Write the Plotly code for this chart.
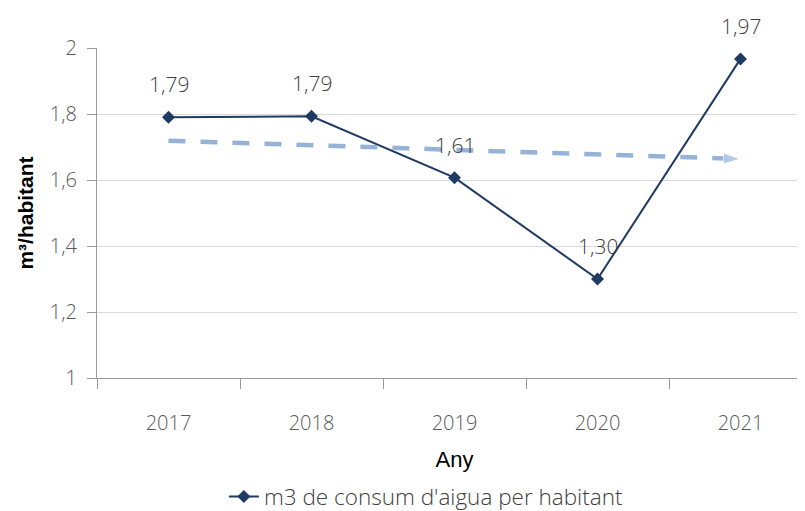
import numpy as np
import plotly.graph_objects as go

years = ["2017", "2018", "2019", "2020", "2021"]
consum = [1.79, 1.793, 1.607, 1.30, 1.967]
series_name = "m3 de consum d'aigua per habitant"

# linear trend of the series (as in the original chart's trendline)
xi = np.arange(len(consum))
slope, intercept = np.polyfit(xi, consum, 1)
trend = [intercept + slope * xi[0], intercept + slope * xi[-1]]
trend_x = [years[0], years[-1]]

lf = "Open Sans"
fig = go.Figure()

fig.add_trace(go.Scatter(
    x=years, y=consum, mode="lines+markers", name=series_name,
    line=dict(color="#1F3B63", width=2),
    marker=dict(symbol="diamond", size=10, color="#1F3B63"),
))

fig.add_trace(go.Scatter(
    x=trend_x, y=trend, mode="lines+markers", showlegend=False,
    line=dict(color="#95B3D7", width=4.5, dash="17px,15px"),
    marker=dict(symbol="arrow", size=[0, 18], angleref="previous", color="#95B3D7"),
    hoverinfo="skip",
))

for i, v in enumerate(consum):
    fig.add_annotation(x=i, y=v, xref="x", yref="y", text=f"{v:.2f}".replace(".", ","),
                       showarrow=False, yshift=33,
                       font=dict(family=lf, size=21, color="#404040", weight=300))

fig.update_layout(
    width=805, height=511,
    margin=dict(l=89, r=1, t=40, b=138),
    plot_bgcolor="white", paper_bgcolor="white",
    separators=", ",
    font=dict(family=lf, color="#595959"),
    showlegend=True,
    legend=dict(orientation="h", x=0.46, xanchor="center", y=-0.36, yanchor="middle",
                font=dict(family=lf, size=22.5, color="#404040", weight=300)),
    xaxis=dict(
        type="category", categoryorder="array", categoryarray=years,
        tickson="boundaries", range=[-0.5, 4.5],
        showgrid=False, showline=True, linecolor="#999999", linewidth=1,
        ticks="outside", ticklen=10, tickcolor="#999999", ticklabelstandoff=27,
        tickfont=dict(family=lf, size=20, color="#595959", weight=300),
        title=dict(text="Any", font=dict(family="Liberation Sans", size=22, color="#000000"), standoff=16),
    ),
    yaxis=dict(
        range=[1, 2], dtick=0.2, showgrid=True, gridcolor="#D9D9D9",
        showline=True, linecolor="#999999", linewidth=1,
        ticks="outside", ticklen=9, tickcolor="#999999", ticklabelstandoff=6,
        tickfont=dict(family=lf, size=20, color="#595959", weight=300),
        title=dict(text="<b>m³/habitant</b>", font=dict(family="Liberation Sans", size=21, color="#000000"), standoff=10),
        zeroline=False,
    ),
)

fig.write_html("out.html")
